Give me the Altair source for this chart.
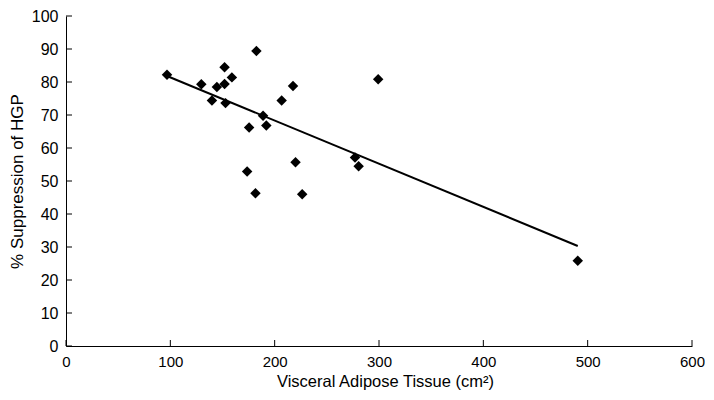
import altair as alt
import pandas as pd

# Visceral adipose tissue (cm^2) and % suppression of HGP
vat = [96.8, 129.7, 139.9, 144.6, 152.0, 152.0, 152.9, 159.0, 182.5, 206.7, 217.6,
       188.9, 192.0, 175.5, 173.6, 181.6, 220.0, 226.4, 277.0, 280.5, 299.2, 490.5]
hgp = [82.2, 79.3, 74.4, 78.5, 84.5, 79.4, 73.6, 81.4, 89.4, 74.4, 78.8,
       69.8, 66.8, 66.2, 52.9, 46.3, 55.7, 46.0, 57.1, 54.5, 80.8, 25.8]
x_ticks = [0, 100, 200, 300, 400, 500, 600]
y_ticks = [0, 10, 20, 30, 40, 50, 60, 70, 80, 90, 100]

W, H = 626, 330
FONT = "Liberation Sans"

df = pd.DataFrame({"vat": vat, "hgp": hgp})
xt_df = pd.DataFrame({"t": x_ticks})
yt_df = pd.DataFrame({"t": y_ticks})

x_title = "Visceral Adipose Tissue (cm²)"
y_title = "% Suppression of HGP"

xscale = alt.Scale(domain=[0, 600], nice=False, zero=False)
yscale = alt.Scale(domain=[0, 100], nice=False, zero=False)

xaxis = alt.Axis(title=x_title, values=x_ticks, ticks=False, grid=False,
                 labelFlush=False, labelOverlap=False, labelPadding=8,
                 labelFontSize=15, labelFont=FONT, labelColor="black",
                 domainColor="black", domainWidth=1,
                 titleFontSize=16.5, titleFont=FONT, titleFontWeight="normal",
                 titleColor="black", titleBaseline="alphabetic", titleY=40, titleX=319)
yaxis = alt.Axis(title=y_title, values=y_ticks, ticks=False, grid=False,
                 labelOverlap=False, labelPadding=8,
                 labelFontSize=16, labelFont=FONT, labelColor="black",
                 domainColor="black", domainWidth=1,
                 titleFontSize=17, titleFont=FONT, titleFontWeight="normal",
                 titleColor="black", titleBaseline="alphabetic", titleX=-44)

points = alt.Chart(df).mark_point(shape="diamond", filled=True, size=110,
                                  color="black", opacity=1).encode(
    x=alt.X("vat:Q", scale=xscale, axis=xaxis, title=x_title),
    y=alt.Y("hgp:Q", scale=yscale, axis=yaxis, title=y_title),
)

line = alt.Chart(df).transform_regression("vat", "hgp").mark_line(
    color="black", strokeWidth=2).encode(
    x=alt.X("vat:Q", scale=xscale, axis=xaxis, title=x_title),
    y=alt.Y("hgp:Q", scale=yscale, axis=yaxis, title=y_title),
)

xticks = alt.Chart(xt_df).mark_rule(color="black", strokeWidth=1).encode(
    x=alt.X("t:Q", scale=xscale, axis=xaxis, title=x_title),
    y=alt.value(H), y2=alt.value(H - 6),
)
yticks = alt.Chart(yt_df).mark_rule(color="black", strokeWidth=1).encode(
    y=alt.Y("t:Q", scale=yscale, axis=yaxis, title=y_title),
    x=alt.value(0), x2=alt.value(6),
)

chart = alt.layer(points, line, xticks, yticks).properties(
    width=W, height=H,
    autosize=alt.AutoSizeParams(type="none"),
    padding={"left": 58, "top": 8, "right": 13, "bottom": 50},
    background="white",
).configure_view(stroke=None)

chart.save("out.html", embed_options={"renderer": "svg", "actions": False})
